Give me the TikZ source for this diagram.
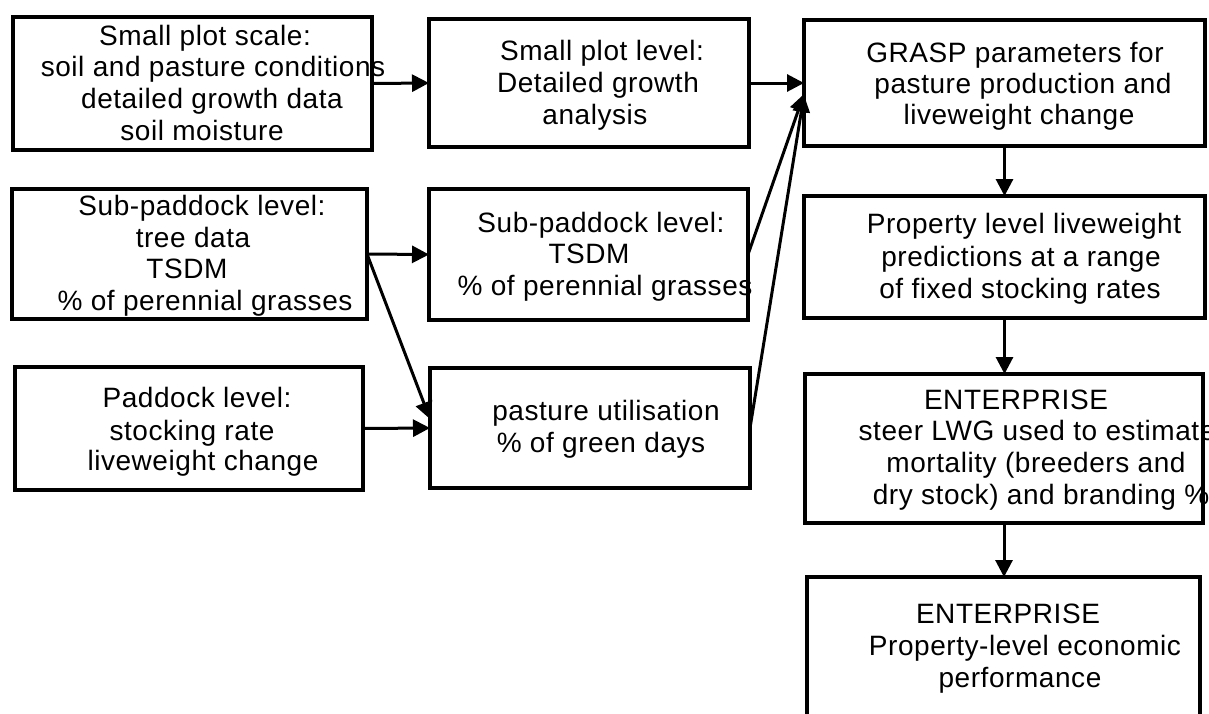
\documentclass[tikz,border=0pt]{standalone}
\usepackage{fontspec}
\newfontfamily\diagfont[LetterSpace=2]{Liberation Sans}
\usetikzlibrary{arrows.meta}
\tikzset{
  box/.style={draw=black, line width=3.5pt, inner sep=0pt, outer sep=0pt},
  txt/.style={anchor=base, inner sep=0pt, font=\diagfont\fontsize{28}{32}\selectfont},
  conn/.style={line width=3pt, -{Triangle[length=17pt,width=17pt]}}
}
\begin{document}
\begin{tikzpicture}[x=1pt,y=-1pt]
\fill[white] (0,0) rectangle (1209,713);
\useasboundingbox (0,0) rectangle (1209,713);
\clip (0,0) rectangle (1209,713);
% boxes
\node[box, minimum width=359pt, minimum height=133pt] (A) at (192.5,83.5) {};
\node[box, minimum width=320pt, minimum height=128pt] (B) at (589,83) {};
\node[box, minimum width=401pt, minimum height=126pt] (C) at (1004.5,83) {};
\node[box, minimum width=401pt, minimum height=122pt] (D) at (1004.5,257) {};
\node[box, minimum width=398pt, minimum height=149pt] (E) at (1004,448.5) {};
\node[box, minimum width=393pt, minimum height=183pt] (F) at (1003.5,668.5) {};
\node[box, minimum width=355pt, minimum height=130pt] (G) at (189.5,254) {};
\node[box, minimum width=348pt, minimum height=123pt] (H) at (189,428.5) {};
\node[box, minimum width=319pt, minimum height=131pt] (I) at (588.5,254.5) {};
\node[box, minimum width=320pt, minimum height=120pt] (J) at (590,428) {};
% texts
\node[txt] (a1) at (205,45) {Small plot scale:};
\node[txt] (a2) at (213,76) {soil and pasture conditions};
\node[txt] (a3) at (212,108) {detailed growth data};
\node[txt] (a4) at (202,140) {soil moisture};
\node[txt] (b1) at (602,60) {Small plot level:};
\node[txt] (b2) at (598,92) {Detailed growth};
\node[txt] (b3) at (595,124) {analysis};
\node[txt] (c1) at (1015,62) {GRASP parameters for};
\node[txt] (c2) at (1023,93) {pasture production and};
\node[txt] (c3) at (1019,124) {liveweight change};
\node[txt] (d1) at (1024,233) {Property level liveweight};
\node[txt] (d2) at (1021,266) {predictions at a range};
\node[txt] (d3) at (1020,298) {of fixed stocking rates};
\node[txt] (e1) at (1016,409) {ENTERPRISE};
\node[txt] (e2) at (1037,440) {steer LWG used to estimate};
\node[txt] (e3) at (1036,472) {mortality (breeders and};
\node[txt] (e4) at (1041,504) {dry stock) and branding \%};
\node[txt] (f1) at (1008,623) {ENTERPRISE};
\node[txt] (f2) at (1025,655) {Property-level economic};
\node[txt] (f3) at (1020,687) {performance};
\node[txt] (g1) at (202,215) {Sub-paddock level:};
\node[txt] (g2) at (193,247) {tree data};
\node[txt] (g3) at (187,278) {TSDM};
\node[txt] (g4) at (205,310) {\% of perennial grasses};
\node[txt] (h1) at (197,407) {Paddock level:};
\node[txt] (h2) at (192,440) {stocking rate};
\node[txt] (h3) at (203,470) {liveweight change};
\node[txt] (i1) at (601,232) {Sub-paddock level:};
\node[txt] (i2) at (589,263) {TSDM};
\node[txt] (i3) at (605,295) {\% of perennial grasses};
\node[txt] (j1) at (606,420) {pasture utilisation};
\node[txt] (j2) at (601,452) {\% of green days};
% connectors
\draw[conn] (A.east) -- (B.west);
\draw[conn] (B.east) -- (C.west);
\draw[conn] (I.east) -- ([yshift=-11pt]C.west);
\draw[conn] (J.east) -- ([yshift=-12pt]C.west);
\draw[conn] (G.east) -- (I.west);
\draw[conn] (G.east) -- ([yshift=9pt]J.west);
\draw[conn] (H.east) -- (J.west);
\draw[conn] (C.south) -- (D.north);
\draw[conn] (D.south) -- (D.south |- E.north);
\draw[conn] (E.south) -- (E.south |- F.north);
\end{tikzpicture}
\end{document}
